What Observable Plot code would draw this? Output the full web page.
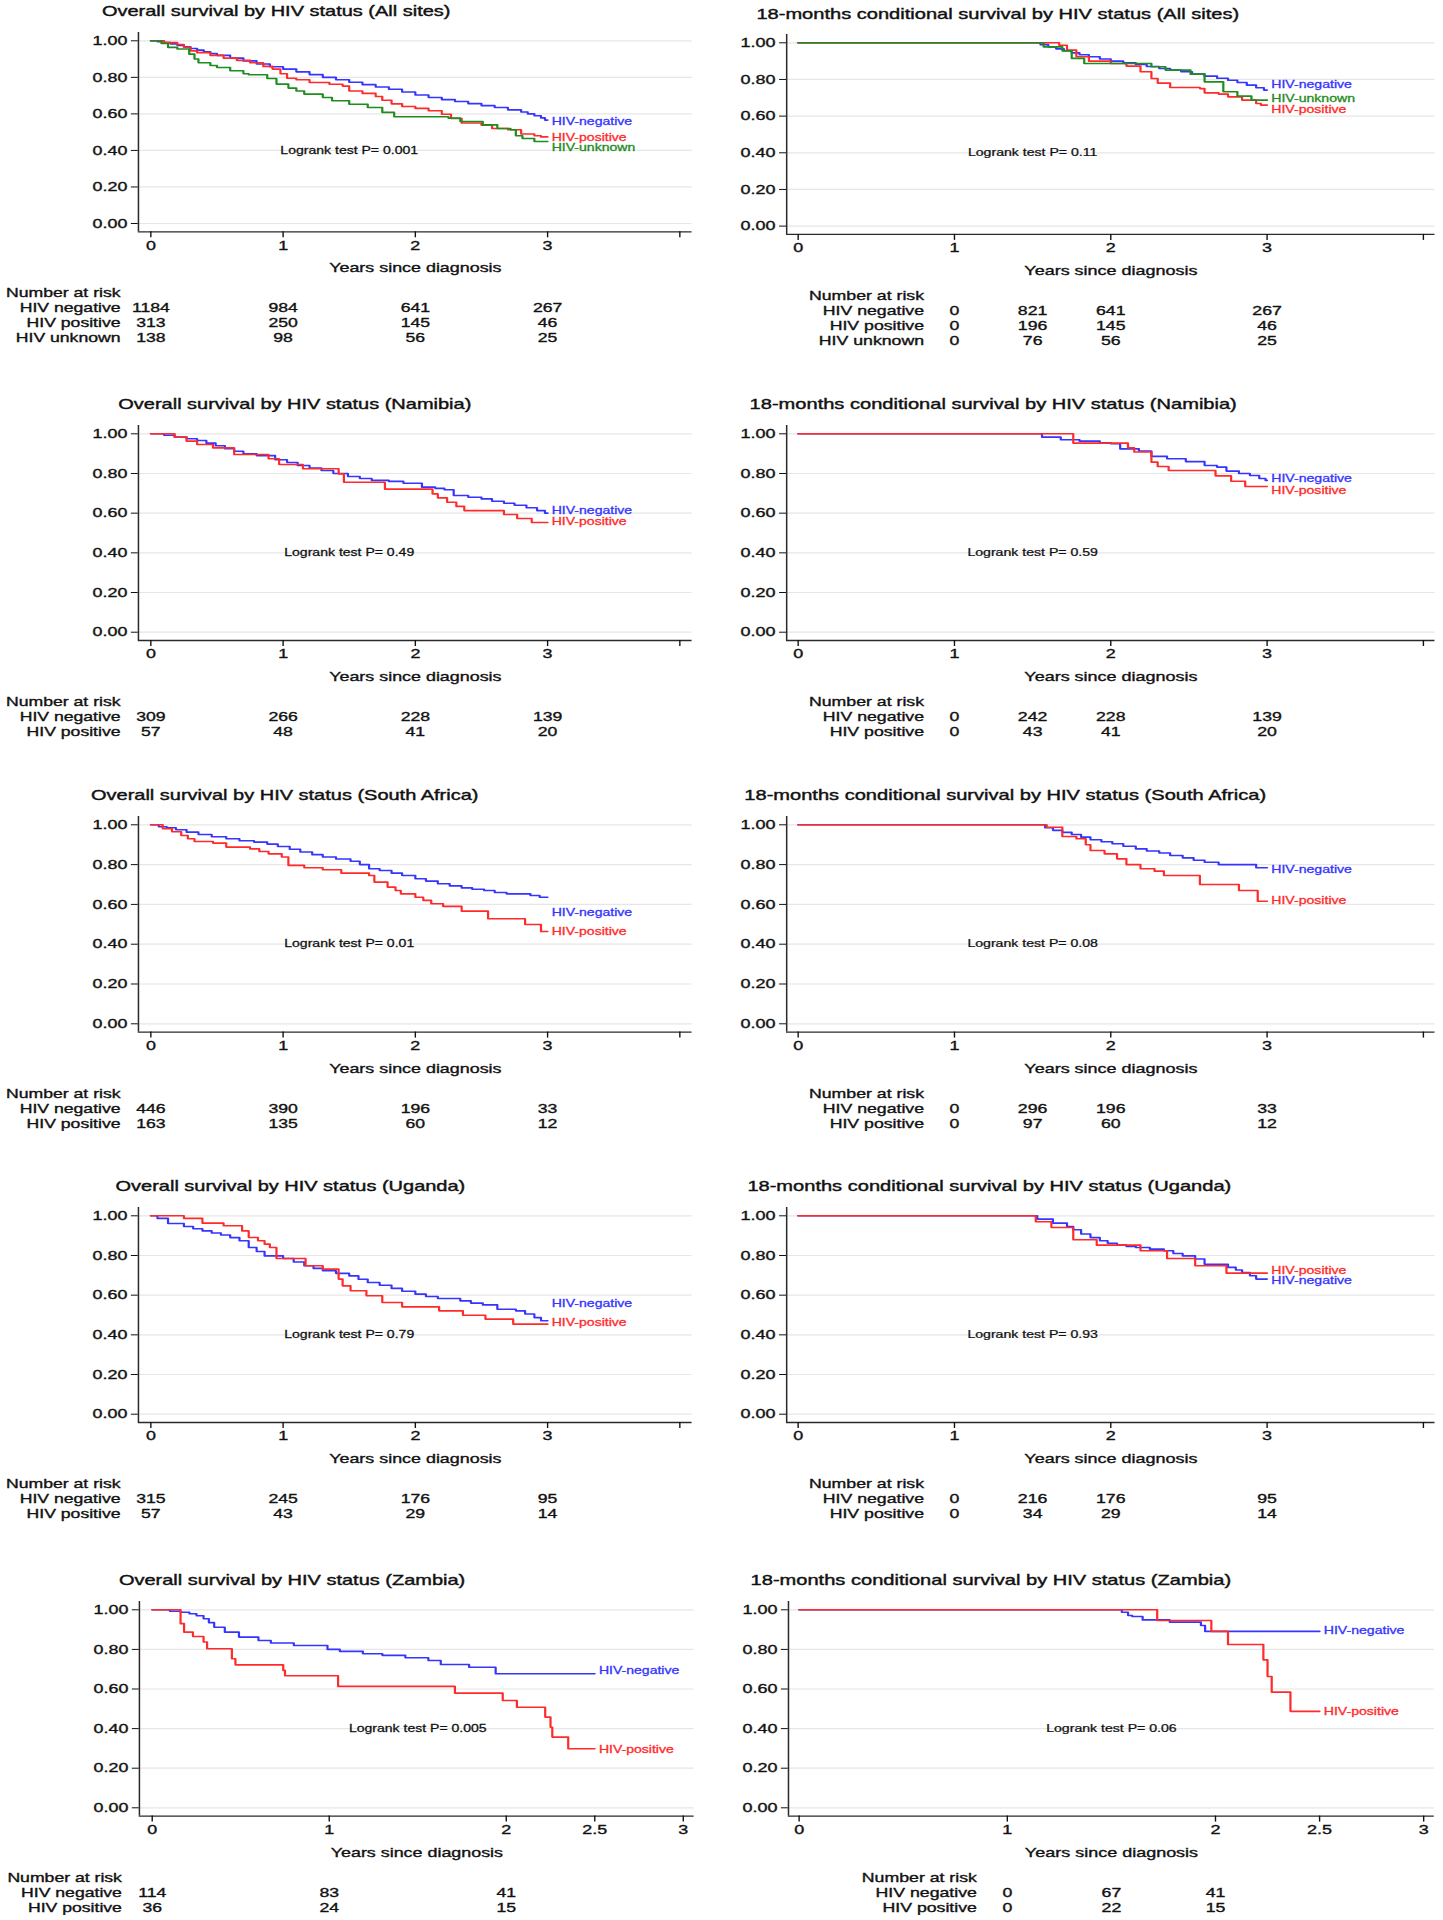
<!DOCTYPE html>
<html><head><meta charset="utf-8">
<script src="https://cdn.jsdelivr.net/npm/d3@7"></script>
<script src="https://cdn.jsdelivr.net/npm/@observablehq/plot@0.6"></script>
<style>
html,body{margin:0;padding:0;background:#fff;}
#page{position:relative;width:1443px;height:1920px;overflow:hidden;font-family:"Liberation Sans",Arial,Helvetica,sans-serif;color:#111;}
.panel{position:absolute;transform-origin:0 0;}
.panel svg{display:block;}
.panel svg g[aria-label="x-axis tick label"], .panel svg g[aria-label="y-axis tick label"]{stroke:#111;stroke-width:0.35px;}
.title{position:absolute;font-size:14.5px;line-height:18px;white-space:nowrap;transform:translateX(-50%);color:#111;-webkit-text-stroke:0.4px #111;}
</style></head><body><div id="page"></div>
<script>
// ---------- tick labels & categories ----------
const yTicks = [0, 0.2, 0.4, 0.6, 0.8, 1];
const xTicks4 = [0, 1, 2, 3, 4];
const xTickLabels4 = ["0", "1", "2", "3", ""];
const xTicks3 = [0, 1, 2, 2.5, 3];
const xTickLabels3 = ["0", "1", "2", "2.5", "3"];
const groupNames = ["HIV negative", "HIV positive", "HIV unknown"];
const curveLabels = ["HIV-negative", "HIV-positive", "HIV-unknown"];
const xTitle = "Years since diagnosis";
const riskHeader = "Number at risk";

const titles = [
  "Overall survival by HIV status (All sites)",
  "18-months conditional survival by HIV status (All sites)",
  "Overall survival by HIV status (Namibia)",
  "18-months conditional survival by HIV status (Namibia)",
  "Overall survival by HIV status (South Africa)",
  "18-months conditional survival by HIV status (South Africa)",
  "Overall survival by HIV status (Uganda)",
  "18-months conditional survival by HIV status (Uganda)",
  "Overall survival by HIV status (Zambia)",
  "18-months conditional survival by HIV status (Zambia)"
];
const logrankP = ["0.001", "0.11", "0.49", "0.59", "0.01", "0.08", "0.79", "0.93", "0.005", "0.06"];

// ---------- number at risk ----------
const riskTimesOverall = [0, 1, 2, 3];
const riskTimesCond = [1, 1.5, 2, 3];
const riskTimesOverallZam = [0, 1, 2];
const riskTimesCondZam = [1, 1.5, 2];
const riskAllL = [[1184, 984, 641, 267], [313, 250, 145, 46], [138, 98, 56, 25]];
const riskAllR = [[0, 821, 641, 267], [0, 196, 145, 46], [0, 76, 56, 25]];
const riskNamL = [[309, 266, 228, 139], [57, 48, 41, 20]];
const riskNamR = [[0, 242, 228, 139], [0, 43, 41, 20]];
const riskSaL = [[446, 390, 196, 33], [163, 135, 60, 12]];
const riskSaR = [[0, 296, 196, 33], [0, 97, 60, 12]];
const riskUgL = [[315, 245, 176, 95], [57, 43, 29, 14]];
const riskUgR = [[0, 216, 176, 95], [0, 34, 29, 14]];
const riskZamL = [[114, 83, 41], [36, 24, 15]];
const riskZamR = [[0, 67, 41], [0, 22, 15]];

// ---------- survival curves [years, survival] ----------
const allOverallNeg = [[0,1],[0.05,.995],[0.1,.99],[0.15,.983],[0.2,.975],[0.25,.967],[0.3,.958],[0.35,.949],[0.4,.94],[0.45,.93],[0.5,.92],[0.6,.905],[0.7,.89],[0.8,.873],[0.9,.858],[1.0,.845],[1.1,.83],[1.2,.815],[1.3,.80],[1.4,.787],[1.5,.773],[1.6,.76],[1.7,.747],[1.8,.735],[1.9,.72],[2.0,.703],[2.1,.69],[2.2,.678],[2.3,.668],[2.4,.656],[2.5,.645],[2.6,.635],[2.7,.622],[2.8,.61],[2.85,.60],[2.9,.59],[2.95,.578],[2.98,.566],[3,.566]];
const allOverallPos = [[0,1],[0.1,.99],[0.2,.98],[0.25,.965],[0.3,.945],[0.35,.935],[0.45,.92],[0.55,.905],[0.65,.893],[0.75,.88],[0.85,.86],[0.92,.845],[0.98,.82],[1.03,.795],[1.1,.787],[1.2,.772],[1.35,.762],[1.45,.752],[1.5,.725],[1.6,.712],[1.7,.695],[1.75,.675],[1.82,.655],[1.9,.64],[2.0,.63],[2.1,.617],[2.2,.598],[2.27,.575],[2.35,.55],[2.5,.538],[2.58,.52],[2.7,.513],[2.8,.49],[2.9,.48],[2.95,.474],[3,.474]];
const allOverallUnk = [[0,1],[0.08,.985],[0.13,.964],[0.2,.955],[0.29,.927],[0.33,.9],[0.36,.88],[0.45,.865],[0.5,.854],[0.6,.836],[0.7,.82],[0.74,.814],[0.88,.794],[0.95,.763],[1.04,.741],[1.1,.725],[1.16,.708],[1.3,.69],[1.37,.672],[1.5,.653],[1.64,.635],[1.75,.608],[1.84,.584],[2.25,.577],[2.34,.558],[2.51,.54],[2.62,.52],[2.72,.513],[2.76,.48],[2.81,.465],[2.9,.449],[3,.449]];

const allCondNeg = [[0,1],[1.5,1],[1.55,.99],[1.6,.978],[1.65,.967],[1.7,.957],[1.75,.945],[1.8,.935],[1.86,.924],[1.93,.912],[2,.90],[2.08,.891],[2.16,.882],[2.23,.871],[2.31,.86],[2.38,.851],[2.45,.842],[2.52,.83],[2.6,.818],[2.68,.807],[2.75,.796],[2.81,.783],[2.87,.769],[2.93,.755],[2.98,.742],[3,.742]];
const allCondPos = [[0,1],[1.62,1],[1.67,.987],[1.72,.96],[1.78,.924],[1.86,.90],[2,.887],[2.1,.873],[2.19,.842],[2.26,.805],[2.3,.78],[2.38,.756],[2.57,.75],[2.6,.727],[2.69,.72],[2.75,.705],[2.84,.687],[2.93,.669],[2.96,.66],[3,.66]];
const allCondUnk = [[0,1],[1.5,1],[1.57,.978],[1.69,.956],[1.75,.915],[1.83,.887],[2.26,.869],[2.35,.851],[2.51,.829],[2.6,.787],[2.72,.733],[2.81,.709],[2.9,.687],[3,.687]];

const namOverallNeg = [[0,1],[0.1,.993],[0.18,.983],[0.27,.975],[0.35,.966],[0.42,.953],[0.49,.94],[0.56,.925],[0.63,.912],[0.7,.899],[0.8,.89],[0.94,.869],[1.03,.855],[1.11,.84],[1.2,.828],[1.29,.815],[1.38,.80],[1.49,.785],[1.58,.775],[1.67,.765],[1.8,.76],[1.91,.751],[2.05,.731],[2.15,.725],[2.22,.718],[2.29,.689],[2.4,.68],[2.5,.672],[2.58,.66],[2.67,.65],[2.75,.64],[2.84,.627],[2.92,.613],[2.98,.60],[3,.60]];
const namOverallPos = [[0,1],[0.18,.983],[0.27,.963],[0.35,.946],[0.47,.929],[0.63,.896],[0.89,.874],[0.97,.845],[1.15,.824],[1.42,.798],[1.46,.756],[1.77,.721],[2.13,.697],[2.17,.677],[2.24,.655],[2.31,.634],[2.37,.613],[2.67,.593],[2.77,.573],[2.88,.553],[3,.553]];
const namCondNeg = [[0,1],[1.5,1],[1.56,.983],[1.68,.97],[1.8,.963],[1.93,.955],[2,.95],[2.06,.924],[2.18,.913],[2.26,.886],[2.36,.874],[2.48,.86],[2.6,.84],[2.68,.832],[2.74,.812],[2.82,.80],[2.89,.79],[2.95,.775],[2.99,.765],[3,.765]];
const namCondPos = [[0,1],[1.76,.953],[2.11,.929],[2.15,.908],[2.26,.857],[2.3,.835],[2.37,.815],[2.67,.788],[2.77,.761],[2.86,.734],[3,.734]];

const saOverallNeg = [[0,1],[0.06,.99],[0.12,.985],[0.19,.975],[0.27,.963],[0.36,.951],[0.46,.94],[0.57,.93],[0.67,.92],[0.78,.913],[0.88,.903],[0.96,.891],[1.05,.877],[1.13,.863],[1.22,.85],[1.3,.838],[1.4,.828],[1.51,.817],[1.58,.80],[1.65,.779],[1.73,.77],[1.82,.757],[1.9,.745],[2,.729],[2.08,.717],[2.17,.704],[2.26,.693],[2.35,.683],[2.43,.676],[2.52,.67],[2.6,.66],[2.69,.653],[2.87,.645],[2.94,.636],[3,.636]];
const saOverallPos = [[0,1],[0.09,.98],[0.16,.965],[0.23,.946],[0.28,.93],[0.33,.916],[0.47,.908],[0.57,.888],[0.75,.879],[0.82,.866],[0.89,.854],[0.99,.838],[1.04,.796],[1.16,.784],[1.3,.774],[1.44,.757],[1.65,.745],[1.69,.712],[1.79,.687],[1.85,.67],[1.89,.653],[2,.636],[2.06,.62],[2.12,.603],[2.21,.59],[2.35,.566],[2.55,.528],[2.83,.499],[2.95,.464],[3,.464]];
const saCondNeg = [[0,1],[1.53,1],[1.58,.985],[1.63,.972],[1.69,.962],[1.75,.951],[1.81,.938],[1.87,.925],[1.94,.915],[2.01,.905],[2.08,.892],[2.16,.879],[2.23,.868],[2.31,.858],[2.38,.846],[2.46,.834],[2.53,.822],[2.6,.812],[2.69,.80],[2.93,.784],[3,.784]];
const saCondPos = [[0,1],[1.59,.988],[1.69,.941],[1.78,.93],[1.84,.9],[1.87,.871],[1.96,.854],[2.04,.829],[2.1,.80],[2.19,.779],[2.28,.767],[2.34,.745],[2.57,.70],[2.82,.67],[2.94,.616],[3,.616]];

const ugOverallNeg = [[0,1],[0.05,.987],[0.13,.961],[0.25,.946],[0.32,.935],[0.39,.924],[0.46,.913],[0.53,.903],[0.6,.89],[0.67,.874],[0.74,.84],[0.8,.82],[0.86,.798],[1,.785],[1.08,.767],[1.16,.748],[1.23,.735],[1.3,.723],[1.4,.71],[1.5,.697],[1.57,.68],[1.64,.664],[1.73,.65],[1.82,.634],[1.9,.62],[2,.605],[2.08,.593],[2.17,.583],[2.34,.571],[2.42,.56],[2.51,.551],[2.62,.529],[2.76,.521],[2.83,.505],[2.9,.487],[2.95,.471],[3,.471]];
const ugOverallPos = [[0,1],[0.25,.987],[0.39,.963],[0.55,.95],[0.69,.924],[0.74,.891],[0.81,.874],[0.86,.857],[0.9,.84],[0.95,.785],[1.17,.748],[1.3,.731],[1.42,.681],[1.45,.647],[1.51,.622],[1.63,.597],[1.75,.563],[1.9,.541],[2.18,.521],[2.36,.499],[2.53,.479],[2.74,.454],[3,.454]];
const ugCondNeg = [[0,1],[1.5,1],[1.53,.983],[1.63,.963],[1.72,.946],[1.76,.93],[1.81,.908],[1.87,.89],[1.93,.874],[1.98,.862],[2.04,.852],[2.1,.845],[2.16,.84],[2.25,.832],[2.34,.824],[2.4,.81],[2.46,.798],[2.54,.782],[2.6,.756],[2.75,.74],[2.8,.727],[2.84,.714],[2.89,.698],[2.93,.681],[3,.681]];
const ugCondPos = [[0,1],[1.52,.97],[1.62,.941],[1.76,.879],[1.91,.852],[2.19,.824],[2.36,.785],[2.54,.748],[2.74,.711],[3,.711]];

const zamOverallNeg = [[0,1],[0.1,.993],[0.16,.988],[0.21,.98],[0.25,.97],[0.29,.955],[0.32,.935],[0.35,.912],[0.41,.887],[0.49,.862],[0.6,.845],[0.67,.832],[0.8,.82],[0.99,.80],[1.06,.79],[1.19,.778],[1.3,.77],[1.43,.758],[1.56,.744],[1.63,.724],[1.79,.71],[1.94,.677],[2.5,.677]];
const zamOverallPos = [[0,1],[0.16,.93],[0.18,.887],[0.23,.865],[0.29,.837],[0.31,.803],[0.45,.753],[0.47,.722],[0.74,.694],[0.75,.667],[1.05,.613],[1.71,.579],[1.98,.542],[2.06,.508],[2.22,.458],[2.25,.407],[2.26,.357],[2.35,.298],[2.5,.298]];
const zamCondNeg = [[0,1],[1.55,.988],[1.58,.971],[1.6,.966],[1.65,.949],[1.78,.938],[1.93,.921],[1.95,.891],[2.5,.891]];
const zamCondPos = [[0,1],[1.72,.946],[1.98,.891],[2.06,.825],[2.23,.747],[2.25,.663],[2.27,.584],[2.36,.487],[2.5,.487]];

// curve-end label heights (survival units), order: negative, positive, unknown
const labYAllL = [.558, .469, .416];
const labYAllR = [.773, .633, .695];
const labYNamL = [.613, .555];
const labYNamR = [.773, .714];
const labYSaL = [.556, .464];
const labYSaR = [.774, .616];
const labYUgL = [.555, .462];
const labYUgR = [.672, .723];
const labYZamL = [.694, .295];
const labYZamR = [.892, .483];

// ---------- styles / layout ----------
const colors = ["#3535ff", "#ff2b2b", "#1f8c1f"];
const FONT = "'Liberation Sans', Arial, Helvetica, sans-serif";
// panel-internal geometry (before horizontal stretch), relative to panel left
const geoms = {
  L:  {left: 0,   k: 1.3776, width: 520, axisLine: 100,  x0: 109,  ppy: 96,    xmax: 4, xEnd: 502},
  LZ: {left: 0,   k: 1.3776, width: 520, axisLine: 100.7, x0: 110, ppy: 128.5, xmax: 3, xEnd: 503.5},
  R:  {left: 720, k: 1.3833, width: 523, axisLine: 47.7, x0: 56,   ppy: 113,   xmax: 4, xEnd: 516.5},
  RZ: {left: 720, k: 1.3833, width: 523, axisLine: 49,   x0: 56.7, ppy: 150.5, xmax: 3, xEnd: 516}
};
const rowsY = [
  {L: [40, 222.7], R: [42.7, 226]},
  {L: [433.3, 631.7], R: [433.3, 631.7]},
  {L: [824.3, 1023.3], R: [824.3, 1023.3]},
  {L: [1215.3, 1413.7], R: [1215.3, 1413.7]},
  {L: [1609.3, 1807.3], R: [1609.3, 1807.3]}
];

const panels = [
  {g: "L",  row: 0, side: "L", tcx: 200.5, series: [allOverallNeg, allOverallPos, allOverallUnk], labY: labYAllL, rt: riskTimesOverall, risk: riskAllL},
  {g: "R",  row: 0, side: "R", tcx: 200.8, series: [allCondNeg, allCondPos, allCondUnk], labY: labYAllR, rt: riskTimesCond, risk: riskAllR},
  {g: "L",  row: 1, side: "L", tcx: 214,   series: [namOverallNeg, namOverallPos], labY: labYNamL, rt: riskTimesOverall, risk: riskNamL},
  {g: "R",  row: 1, side: "R", tcx: 197.5, series: [namCondNeg, namCondPos], labY: labYNamR, rt: riskTimesCond, risk: riskNamR},
  {g: "L",  row: 2, side: "L", tcx: 206.7, series: [saOverallNeg, saOverallPos], labY: labYSaL, rt: riskTimesOverall, risk: riskSaL},
  {g: "R",  row: 2, side: "R", tcx: 206.2, series: [saCondNeg, saCondPos], labY: labYSaR, rt: riskTimesCond, risk: riskSaR},
  {g: "L",  row: 3, side: "L", tcx: 210.8, series: [ugOverallNeg, ugOverallPos], labY: labYUgL, rt: riskTimesOverall, risk: riskUgL},
  {g: "R",  row: 3, side: "R", tcx: 194.7, series: [ugCondNeg, ugCondPos], labY: labYUgR, rt: riskTimesCond, risk: riskUgR},
  {g: "LZ", row: 4, side: "L", tcx: 212,   series: [zamOverallNeg, zamOverallPos], labY: labYZamL, rt: riskTimesOverallZam, risk: riskZamL},
  {g: "RZ", row: 4, side: "R", tcx: 195.8, series: [zamCondNeg, zamCondPos], labY: labYZamR, rt: riskTimesCondZam, risk: riskZamR}
];

const page = document.getElementById("page");
const YPAD = 8.3, MT = 4;
const TXT = {fill: "#111", stroke: "#111", strokeWidth: 0.35};

panels.forEach((p, idx) => {
  const g = geoms[p.g];
  const [y1, y0] = rowsY[p.row][p.side];
  const ppu = y0 - y1;
  const xLo = -(g.x0 - g.axisLine) / g.ppy;
  const xHi = g.xmax + (g.xEnd - (g.x0 + g.xmax * g.ppy)) / g.ppy;
  const yLo = -YPAD / ppu, yHi = 1 + YPAD / ppu;
  const nRows = p.risk.length;
  const MB = nRows === 3 ? 126 : 110;
  const frameH = ppu + 2 * YPAD;
  const H = MT + frameH + MB;
  const svgTop = y1 - YPAD - MT;
  const xt = g.xmax === 4 ? xTicks4 : xTicks3;
  const xtl = g.xmax === 4 ? xTickLabels4 : xTickLabels3;

  const marks = [
    Plot.gridY(yTicks, {stroke: "#e6e6e6", strokeOpacity: 1, strokeWidth: 1.2}),
    Plot.ruleX([xLo], {stroke: "#2a2a2a", strokeWidth: 1.1}),
    Plot.ruleY([yLo], {stroke: "#2a2a2a", strokeWidth: 1.3}),
    Plot.axisY({ticks: yTicks, tickFormat: d3.format(".2f"), tickSize: 5, tickPadding: 3, fontSize: 13, label: null}),
    Plot.axisX({ticks: xt, tickFormat: d => xtl[xt.indexOf(d)], tickSize: 6, tickPadding: 2.5, fontSize: 13, label: null})
  ];
  p.series.forEach((s, i) => {
    marks.push(Plot.line(s, {x: d => d[0], y: d => d[1], curve: "step-after", stroke: colors[i], strokeWidth: 1.6}));
  });
  p.series.forEach((s, i) => {
    const last = s[s.length - 1][0];
    marks.push(Plot.text([{t: last, s: p.labY[i], txt: curveLabels[i]}], {
      x: "t", y: "s", text: "txt", dx: 3, textAnchor: "start", lineAnchor: "middle",
      fill: colors[i], stroke: colors[i], strokeWidth: 0.3, fontSize: 10.2
    }));
  });
  marks.push(Plot.text([{t: 1.5, s: 0.4, txt: "Logrank test P= " + logrankP[idx]}], {
    x: "t", y: "s", text: "txt", textAnchor: "middle", lineAnchor: "middle", fontSize: 10.2, ...TXT, strokeWidth: 0.25
  }));
  marks.push(Plot.text([xTitle], {frameAnchor: "bottom", dy: 40.7, lineAnchor: "bottom", fontSize: 13, ...TXT}));
  marks.push(Plot.text([{t: p.rt[0], txt: riskHeader}], {
    x: "t", text: "txt", frameAnchor: "bottom", dx: -22, dy: 65.7, textAnchor: "end", lineAnchor: "bottom", fontSize: 12.8, ...TXT
  }));
  p.risk.forEach((vals, k) => {
    const dy = 80.7 + 15 * k;
    marks.push(Plot.text([{t: p.rt[0], txt: groupNames[k]}], {
      x: "t", text: "txt", frameAnchor: "bottom", dx: -22, dy, textAnchor: "end", lineAnchor: "bottom", fontSize: 12.8, ...TXT
    }));
    marks.push(Plot.text(vals.map((v, j) => ({t: p.rt[j], v: String(v)})), {
      x: "t", text: "v", frameAnchor: "bottom", dy, textAnchor: "middle", lineAnchor: "bottom", fontSize: 12.8, ...TXT
    }));
  });

  const chart = Plot.plot({
    width: g.width, height: H,
    marginLeft: g.axisLine,
    marginRight: g.width - g.xEnd,
    marginTop: MT, marginBottom: MB,
    x: {domain: [xLo, xHi]},
    y: {domain: [yLo, yHi]},
    style: {fontFamily: FONT, fontSize: "13px", color: "#111", background: "transparent", overflow: "visible"},
    marks
  });

  // panel wrapper: the source figure is stretched horizontally, so each panel is scaled in x
  const wrap = document.createElement("div");
  wrap.className = "panel";
  wrap.style.left = g.left + "px";
  wrap.style.top = svgTop + "px";
  wrap.style.width = g.width + "px";
  wrap.style.transform = `scaleX(${g.k})`;
  wrap.appendChild(chart);

  const t = document.createElement("div");
  t.className = "title";
  t.textContent = titles[idx];
  t.style.left = p.tcx + "px";
  t.style.top = (y1 - 38 - svgTop) + "px";
  wrap.appendChild(t);
  page.appendChild(wrap);
});
</script></body></html>
